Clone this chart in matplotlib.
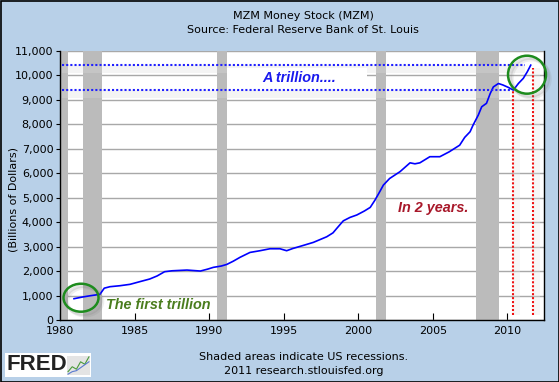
import matplotlib

matplotlib.use("Agg")
import matplotlib.pyplot as plt
from matplotlib.patches import Ellipse, Rectangle
import numpy as np

# MZM money stock, billions of dollars
dates = [
    1980.92, 1981.5, 1982.0, 1982.66, 1982.95, 1983.33, 1984.0, 1984.68, 1985.3,
    1986.0, 1986.5, 1987.0, 1987.5, 1988.5, 1989.4, 1989.9, 1990.27, 1990.8,
    1991.17, 1991.6, 1992.06, 1992.73, 1993.4, 1994.07, 1994.74, 1995.19, 1995.6,
    1996.09, 1996.98, 1997.88, 1998.3, 1998.55, 1998.99, 1999.44, 1999.9, 2000.4,
    2000.8, 2001.12, 2001.4, 2001.68, 2002.1, 2002.8, 2003.47, 2003.8, 2004.13,
    2004.8, 2005.47, 2006.1, 2006.8, 2007.14, 2007.5, 2007.7, 2008.05, 2008.28,
    2008.6, 2008.85, 2009.06, 2009.4, 2009.7, 2010.07, 2010.4, 2010.74, 2011.07,
    2011.34, 2011.57,
]
mzm = [
    870, 940, 990, 1049, 1300, 1360, 1400, 1457, 1560,
    1674, 1800, 1973, 2010, 2040, 2000, 2080, 2150, 2204,
    2270, 2400, 2560, 2760, 2830, 2910, 2910, 2830, 2920,
    3007, 3170, 3400, 3560, 3740, 4050, 4190, 4290, 4450,
    4600, 4900, 5200, 5510, 5780, 6060, 6420, 6380, 6420,
    6670, 6670, 6870, 7140, 7460, 7690, 7960, 8370, 8710,
    8850, 9250, 9520, 9660, 9600, 9500, 9390, 9660, 9870,
    10140, 10410,
]

recession_start = [1980.0, 1981.5, 1990.5, 2001.17, 2007.92]
recession_end = [1980.5, 1982.83, 1991.17, 2001.83, 2009.42]

year_ticks = [1980, 1985, 1990, 1995, 2000, 2005, 2010]
value_ticks = list(range(0, 11001, 1000))

trillion_levels = [10400, 9380]          # blue dotted guide lines
trillion_ends = [2011.2, 2010.2]
marker_years = [2010.4, 2011.7]          # red dotted verticals
marker_tops = [9390, 10300]

icon_a = [1, 2, 1.5, 3, 2.5, 4]
icon_b = [0.5, 1, 1.2, 1.8, 2.4, 3]

BG = "#B8D0E8"
fig = plt.figure(figsize=(5.59, 3.82), dpi=100, facecolor=BG)
ax = fig.add_axes([60.3 / 559, 62 / 382, 483.7 / 559, 269.3 / 382])
ax.set_facecolor("white")

px_x = 1 / 14.9      # years per pixel
px_y = 1000 / 24.5   # dollars per pixel

ax.set_xlim(1980, 2012.46)
ax.set_ylim(0, 11000)
ax.set_yticks(value_ticks)
ax.set_yticklabels([f"{v:,}" for v in value_ticks])
ax.set_xticks(year_ticks)
ax.grid(axis="y", color="#A8A8A8", lw=1, zorder=0)
ax.set_axisbelow(True)
ax.tick_params(axis="x", direction="in", length=5, pad=4, labelsize=8, colors="black")
ax.tick_params(axis="y", direction="out", length=3, pad=2, labelsize=8)
ax.spines["top"].set_visible(False)
for s in ["left", "bottom", "right"]:
    ax.spines[s].set_color("black")
    ax.spines[s].set_linewidth(1)

for a, b in zip(recession_start, recession_end):
    ax.axvspan(a, b, color="#BBBBBB", lw=0, zorder=1)

# faint shadow bands under the guide lines
for lvl, end in zip(trillion_levels, trillion_ends):
    ax.fill_between([1980.1, end], lvl - 8 * px_y, lvl, color="#DDDDDD", alpha=0.3, lw=0, zorder=2)
for yr, top in zip(marker_years, marker_tops):
    ax.fill_betweenx([200, top], yr, yr + 7 * px_x, color="#E2E2E2", alpha=0.3, lw=0, zorder=2)

ax.add_patch(Rectangle((1991.2, 9480), 9.4, 800, facecolor="white", edgecolor="none", zorder=2.5))

ax.plot(dates, mzm, color="#0000FF", lw=1.2, zorder=4)

for lvl, end in zip(trillion_levels, trillion_ends):
    ax.plot([1980.1, end], [lvl, lvl], color="#2020FF", lw=1.5, ls=(0, (1, 1)), zorder=5)
for yr, top in zip(marker_years, marker_tops):
    ax.plot([yr, yr], [200, top], color="#EE1111", lw=1.5, ls=(0, (1, 0.9)), zorder=5)

# circles with a soft shadow
circles = [((1981.39, 910), 35, 28), ((2011.32, 10020), 38, 38)]
for (cx, cy), w, h in circles:
    for k, al in [(4, 0.12), (2.5, 0.18)]:
        ax.add_patch(Ellipse((cx + k * px_x, cy - k * px_y), w * px_x, h * px_y, fill=False,
                             edgecolor="#777777", lw=2.5, alpha=al, zorder=5.5, clip_on=False))
    ax.add_patch(Ellipse((cx, cy), w * px_x, h * px_y, fill=False, edgecolor="#1E8C1E",
                         lw=1.8, zorder=6, clip_on=False))

ann = dict(fontweight="bold", fontstyle="italic", fontsize=10.4, family="Liberation Sans",
           ha="center", va="center", zorder=7)
ax.text(1986.55, 600, "The first trillion", color="#4A7D1E", **ann)
ax.text(1996.0, 9880, "A trillion....", color="#1A1AEE", **ann)
ax.text(2005.05, 4570, "In 2 years.", color="#A8182A", **ann)

# titles and footer
fig.text(0.542, 1 - 16 / 382, "MZM Money Stock (MZM)", ha="center", va="center", fontsize=8)
fig.text(0.542, 1 - 30 / 382, "Source: Federal Reserve Bank of St. Louis", ha="center", va="center", fontsize=8)
fig.text(0.024, 1 - 200 / 382, "(Billions of Dollars)", rotation=90, ha="center", va="center", fontsize=8)
fig.text(0.543, 1 - 357 / 382, "Shaded areas indicate US recessions.", ha="center", va="center", fontsize=8)
fig.text(0.543, 1 - 371 / 382, "2011 research.stlouisfed.org", ha="center", va="center", fontsize=8)

# FRED logo
logo = fig.add_axes([5 / 559, 5 / 382, 86 / 559, 24 / 382], zorder=2)
logo.set_facecolor("white")
logo.set_xticks([])
logo.set_yticks([])
for s in logo.spines.values():
    s.set_visible(False)
logo.text(0.02, 0.5, "FRED", transform=logo.transAxes, ha="left", va="center", fontsize=16,
          fontweight="heavy", family="Liberation Sans", color="#222222")
icon = fig.add_axes([67 / 559, 7 / 382, 23 / 559, 19 / 382], zorder=3)
icon.set_facecolor("#E4E4E4")
icon.plot(icon_a, color="#4A9A3A", lw=0.8)
icon.plot(icon_b, color="#5A7AD0", lw=0.8)
icon.set_xticks([])
icon.set_yticks([])
for s in icon.spines.values():
    s.set_visible(False)

fig.patches.append(Rectangle((0.5 / 559, 0.5 / 382), 1 - 1 / 559, 1 - 1 / 382, transform=fig.transFigure,
                             fill=False, edgecolor="black", lw=1.2))

fig.savefig("out.png", dpi=100, facecolor=BG)
